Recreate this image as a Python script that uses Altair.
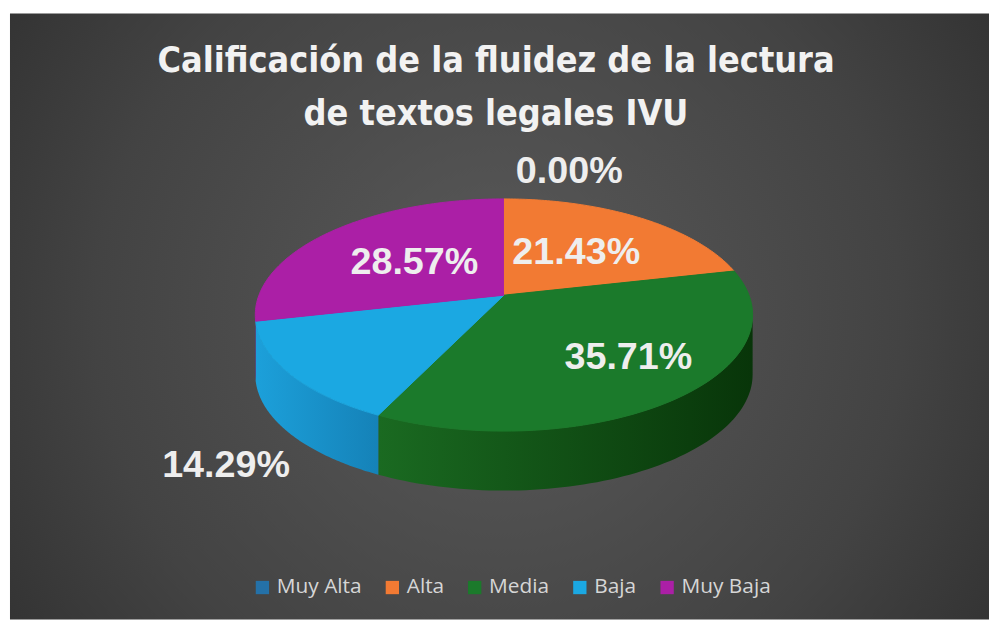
import altair as alt
import pandas as pd
import numpy as np

# ---- data ----
categories = ["Muy Alta", "Alta", "Media", "Baja", "Muy Baja"]
values = [0.0, 21.43, 35.71, 14.29, 28.57]
labels = ["0.00%", "21.43%", "35.71%", "14.29%", "28.57%"]
top_colors = ["#2471a8", "#f27a33", "#1b7a2b", "#1ba8e2", "#ab1fa6"]
wall_light = ["#1e5f8f", "#c8652a", "#1a6a21", "#1ca0da", "#8e1689"]
wall_dark = ["#143f60", "#8a4418", "#083509", "#1582b8", "#6a1066"]
title_lines = "Calificación de la fluidez de la lectura\nde textos legales IVU"

# ---- layout constants (not data) ----
W, H = 989, 614
CX, CY = 500, 287                  # pie vertex (px, chart coords)
AX, AY = 247, 251                  # px per unit on x / y scales
K = 0.171                          # perspective strength
S = 0.4526                         # vertical squash of the disc
D = 0.239                          # wall depth (y units)
N = 90
label_nudge = {"Muy Alta": (12, -11), "Alta": (-6, 3), "Media": (34, 11),
               "Baja": (50, 15), "Muy Baja": (10, 4)}

total = sum(values)
ends = np.cumsum(values) / total
starts = ends - np.array(values) / total

slices = pd.DataFrame({
    "category": categories, "value": values, "label": labels,
    "start": starts, "end": ends,
})
top_df = slices.merge(pd.DataFrame({"k": range(-1, N + 1)}), how="cross")
wall_df = slices.merge(
    pd.DataFrame({"k": list(range(N + 1)) * 2, "side": [0] * (N + 1) + [1] * (N + 1)}),
    how="cross")

xs = alt.Scale(domain=[-1, 1], range=[CX - AX, CX + AX], nice=False, zero=False)
ys = alt.Scale(domain=[-1, 1], range=[CY + AY, CY - AY], nice=False, zero=False)
cscale = alt.Scale(domain=categories, range=top_colors)

def px(ang, r="1"):
    return "(%s)*sin(%s)/(1 + %f*(%s)*cos(%s))" % (r, ang, K, r, ang)

def py(ang, r="1"):
    return "%f*(%s)*cos(%s)/(1 + %f*(%s)*cos(%s))" % (S, r, ang, K, r, ang)

# background
bg = alt.Chart(pd.DataFrame({"a": [0]})).mark_rect(
    fill=alt.RadialGradient(
        gradient="radial", x1=0.5, y1=0.5, x2=0.5, y2=0.5, r1=0, r2=0.75,
        stops=[alt.GradientStop(offset=0, color="#5a5a5a"),
               alt.GradientStop(offset=0.55, color="#434343"),
               alt.GradientStop(offset=1, color="#262626")]),
).encode(x=alt.value(2), x2=alt.value(W), y=alt.value(3), y2=alt.value(H))

# title
tfont = "Liberation Sans Narrow, DejaVu Sans Condensed, sans-serif"
title = alt.Chart(pd.DataFrame({"t": [title_lines]})).mark_text(
    font=tfont, fontSize=36, fontWeight="bold", color="#f2f2f2",
    lineBreak="\n", lineHeight=53, align="center", baseline="alphabetic",
).encode(x=alt.value(492), y=alt.value(62), text="t:N")

# side walls (one layer per slice so each carries its own shading)
wall_base = alt.Chart(wall_df).transform_filter(
    "datum.end > 0.25 && datum.start < 0.75"
).transform_calculate(
    theta="2*PI*(datum.start + (datum.end - datum.start) * datum.k / %d)" % N
).transform_calculate(
    phi="clamp(datum.theta, acos(-%f), 2*PI - acos(-%f))" % (K, K)
).transform_calculate(
    x=px("datum.phi"),
    y="%s - datum.side * %f" % (py("datum.phi"), D),
    ord="datum.side == 0 ? datum.k : %d - datum.k" % (2 * N + 1),
)
wall_layers = []
for cat, lc, dc in zip(categories, wall_light, wall_dark):
    wall_layers.append(
        wall_base.transform_filter(alt.datum.category == cat).mark_line(
            filled=True, strokeWidth=0,
            fill=alt.LinearGradient(
                gradient="linear", x1=0, y1=0, x2=1, y2=0,
                stops=[alt.GradientStop(offset=0, color=lc),
                       alt.GradientStop(offset=1, color=dc)]),
        ).encode(
            x=alt.X("x:Q", scale=xs, axis=None),
            y=alt.Y("y:Q", scale=ys, axis=None),
            order=alt.Order("ord:Q"),
        )
    )

# top faces
tops = alt.Chart(top_df).transform_calculate(
    theta="2*PI*(datum.start + (datum.end - datum.start) * max(datum.k, 0) / %d)" % N
).transform_calculate(
    x="datum.k < 0 ? 0 : " + px("datum.theta"),
    y="datum.k < 0 ? 0 : " + py("datum.theta"),
).mark_line(filled=True, strokeWidth=1).encode(
    x=alt.X("x:Q", scale=xs, axis=None),
    y=alt.Y("y:Q", scale=ys, axis=None),
    color=alt.Color("category:N", scale=cscale, sort=categories,
                    legend=alt.Legend(
                        orient="none", legendX=246, legendY=571, direction="horizontal",
                        title=None, symbolType="square", symbolSize=180,
                        symbolStrokeWidth=0, labelFontSize=21, labelColor="#d6d6d6",
                        labelFont="Open Sans", columnPadding=20, symbolOffset=0,
                        labelOffset=4)),
    stroke=alt.Stroke("category:N", scale=cscale, legend=None),
    order=alt.Order("k:Q"),
)

# data labels
lab_base = alt.Chart(slices).transform_calculate(
    mid="PI*(datum.start + datum.end)",
    r="datum.value < 15 ? 1.2 : 0.55",
).transform_calculate(
    lx=px("datum.mid", "datum.r"),
    ly="%s - (datum.value < 15 && cos(datum.mid) < 0 ? %f : 0)" % (py("datum.mid", "datum.r"), D),
)
lab_enc = dict(x=alt.X("lx:Q", scale=xs, axis=None),
               y=alt.Y("ly:Q", scale=ys, axis=None),
               text="label:N")
font_lab = dict(font="Liberation Sans, Arial, sans-serif", fontSize=38, fontWeight="bold",
                baseline="middle", color="#eeeeee")

lab_layers = []
for cat, val in zip(categories, values):
    ndx, ndy = label_nudge[cat]
    if val >= 15:
        align = "center"
    else:
        align = "left" if cat == "Muy Alta" else "right"
    lab_layers.append(
        lab_base.transform_filter(alt.datum.category == cat).mark_text(
            align=align, dx=ndx, dy=ndy, **font_lab
        ).encode(**lab_enc)
    )

chart = alt.layer(bg, title, *wall_layers, tops, *lab_layers).properties(
    width=W, height=H, padding=0, autosize=alt.AutoSizeParams(type="none"),
    background="#ffffff",
).configure_view(stroke=None)

chart.save("out.html", embed_options={"renderer": "svg", "actions": False})
